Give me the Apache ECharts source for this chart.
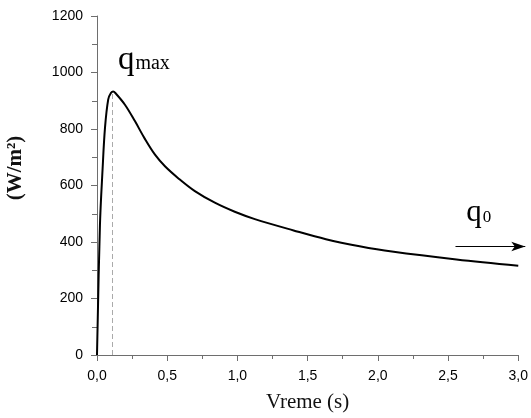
<!DOCTYPE html>
<html>
<head>
<meta charset="utf-8">
<script src="https://cdn.jsdelivr.net/npm/echarts@6/dist/echarts.min.js"></script>
<style>
  html, body { margin: 0; padding: 0; background: #fff; }
  #chart { width: 531px; height: 418px; }
</style>
</head>
<body>
<div id="chart"></div>
<script>
// 热流密度随时间变化 q(t)，读图估值
const timeS = [0, 0.021, 0.04, 0.057, 0.08, 0.1, 0.115, 0.135, 0.199, 0.27, 0.341, 0.413, 0.484, 0.578, 0.697, 0.839, 0.981, 1.124, 1.4, 1.63, 1.87, 2.1, 2.56, 3.0];
const flux  = [0, 460, 660, 805, 905, 928, 933, 925, 886, 828, 765, 709, 668, 626, 580, 539, 507, 481, 441, 410, 385, 366, 338, 316];

// 峰值位置（虚线）与标注
const peakT = 0.11;
const peakQ = 930;
const qmaxLabelAt = [0.149, 986];
const q0LabelAt = [2.63, 447];
const q0ArrowT = [2.553, 3.05];
const q0ArrowQ = 384;

const xTicks = { min: 0, max: 3, interval: 0.5 };
const yTicks = { min: 0, max: 1200, interval: 200 };

const AXIS = '#6e6e6e';
const SERIF = "'Liberation Serif', 'DejaVu Serif', serif";
const SANS = "'Liberation Sans', Arial, sans-serif";

const chart = echarts.init(document.getElementById('chart'));

function comma(v) {
  return v.toFixed(1).replace('.', ',');
}

const dashedPeak = [
  { coord: [peakT, 0], lineStyle: { color: '#aaa', type: [5, 3], width: 1 } },
  { coord: [peakT, peakQ] },
];

chart.setOption({
  animation: false,
  backgroundColor: '#fff',
  grid: { left: 97, right: 12, top: 16, bottom: 56.5 },
  xAxis: {
    type: 'value',
    min: xTicks.min, max: xTicks.max, interval: xTicks.interval,
    name: 'Vreme (s)',
    nameLocation: 'middle',
    nameGap: 37,
    nameTextStyle: { fontFamily: SERIF, fontSize: 21, color: '#111' },
    axisLine: { lineStyle: { color: AXIS, width: 1 } },
    axisTick: { length: 6, lineStyle: { color: AXIS } },
    minorTick: { show: true, splitNumber: 2, length: 4, lineStyle: { color: AXIS } },
    axisLabel: { formatter: comma, fontFamily: SANS, fontSize: 14, color: '#000', margin: 14 },
    splitLine: { show: false },
  },
  yAxis: {
    type: 'value',
    min: yTicks.min, max: yTicks.max, interval: yTicks.interval,
    axisLine: { show: true, lineStyle: { color: AXIS, width: 1 } },
    axisTick: { show: true, length: 6, lineStyle: { color: AXIS } },
    minorTick: { show: true, splitNumber: 2, length: 5, lineStyle: { color: AXIS } },
    axisLabel: { formatter: (v) => String(v), fontFamily: SANS, fontSize: 14, color: '#000', margin: 14 },
    splitLine: { show: false },
  },
  series: [{
    id: 'q',
    type: 'line',
    data: timeS.map((t, i) => [t, flux[i]]),
    smooth: 0.35,
    showSymbol: false,
    lineStyle: { color: '#000', width: 2 },
    markLine: { silent: true, symbol: 'none', label: { show: false }, data: [dashedPeak] },
  }],
});

// 需要越出坐标范围的标注（q0 箭头、文字）用库的比例尺换算成像素
const px = (t, q) => chart.convertToPixel({ seriesIndex: 0 }, [t, q]);
const a0 = px(q0ArrowT[0], q0ArrowQ);
const a1 = px(q0ArrowT[1], q0ArrowQ);
const lmax = px(qmaxLabelAt[0], qmaxLabelAt[1]);
const l0 = px(q0LabelAt[0], q0LabelAt[1]);

chart.setOption({
  series: [{
    id: 'q',
    markLine: {
      silent: true,
      symbol: 'none',
      label: { show: false },
      data: [
        dashedPeak,
        [
          { x: a0[0], y: a0[1], symbol: 'none', lineStyle: { color: '#000', type: 'solid', width: 1 } },
          { x: a1[0], y: a1[1], symbol: 'arrow', symbolSize: [7, 14] },
        ],
      ],
    },
  }],
  graphic: [
    {
      type: 'text', x: lmax[0], y: lmax[1],
      style: {
        text: '{q|q}{s|max}',
        verticalAlign: 'bottom',
        rich: {
          q: { fontFamily: SERIF, fontSize: 33, fill: '#000', verticalAlign: 'bottom' },
          s: { fontFamily: SERIF, fontSize: 20, fill: '#000', verticalAlign: 'bottom', padding: [0, 0, 3, 1] },
        },
      },
    },
    {
      type: 'text', x: l0[0], y: l0[1],
      style: {
        text: '{q|q}{s|0}',
        verticalAlign: 'bottom',
        rich: {
          q: { fontFamily: SERIF, fontSize: 31, fill: '#000', verticalAlign: 'bottom' },
          s: { fontFamily: SERIF, fontSize: 17, fill: '#000', verticalAlign: 'bottom', padding: [0, 0, 3, 1] },
        },
      },
    },
    {
      type: 'text', x: 16, y: 168, rotation: Math.PI / 2,
      style: {
        text: '(W/m²)',
        fontFamily: SERIF, fontSize: 21, fontWeight: 'bold', fill: '#111',
        align: 'center', verticalAlign: 'middle',
      },
    },
  ],
});
</script>
</body>
</html>
